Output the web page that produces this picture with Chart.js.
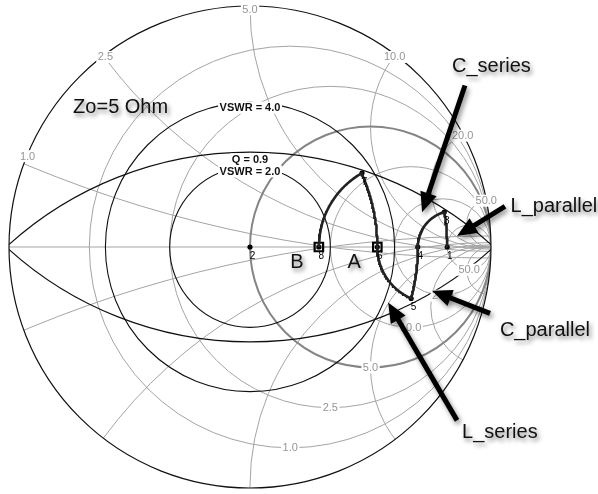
<!DOCTYPE html>
<html>
<head>
<meta charset="utf-8">
<script src="https://cdn.jsdelivr.net/npm/chart.js@4/dist/chart.umd.min.js"></script>
<style>
  html, body { margin: 0; padding: 0; background: #fff; }
  #wrap { width: 598px; height: 494px; }
</style>
</head>
<body>
<div id="wrap"><canvas id="smith" width="598" height="494"></canvas></div>
<script>
// Reference impedance (ohms)
const Z0 = 5;

// Grid values in ohms
const resistanceValues = [1.0, 2.5, 5.0, 10.0, 20.0, 50.0];
const reactanceValues = [1.0, 2.5, 5.0, 10.0, 20.0, 50.0];
const vswrValues = [2.0, 4.0];
const qValues = [0.9];

// Matching-network points, impedance in ohms
const pointIds = ['1', '2', '3', '4', '5', '6', '7', '8'];
const pointR = [50.0, 5.0, 27.9, 27.9, 16.2, 16.2, 9.0, 9.0];
const pointX = [0.0, 0.0, 24.8, 0.0, -13.8, 0.0, 8.1, 0.0];

// Path through the network and the element between each pair of points
const pathOrder = ['1', '3', '4', '5', '6', '7', '8'];
const pathElements = ['parallel', 'series', 'parallel', 'series', 'parallel', 'series'];

// Marked reference planes
const markedPoints = ['6', '8'];

// ---- complex helpers ----
function inv(z) {
  const d = z.re * z.re + z.im * z.im;
  return { re: z.re / d, im: -z.im / d };
}
function toGamma(re, im) {
  const nr = re - 1, ni = im, dr = re + 1, di = im;
  const den = dr * dr + di * di;
  return { x: (nr * dr + ni * di) / den, y: (ni * dr - nr * di) / den };
}
function zOf(id) {
  const i = pointIds.indexOf(id);
  return { re: pointR[i] / Z0, im: pointX[i] / Z0 };
}

// Locus traced while an element's value is swept from one point to the next
function elementSweep(fromId, toId, kind) {
  const za = zOf(fromId), zb = zOf(toId);
  const pts = [];
  const n = 60;
  if (kind === 'series') {
    for (let i = 0; i <= n; i++) {
      const x = za.im + (zb.im - za.im) * i / n;
      pts.push(toGamma(za.re, x));
    }
  } else {
    const ya = inv(za), yb = inv(zb);
    for (let i = 0; i <= n; i++) {
      const b = ya.im + (yb.im - ya.im) * i / n;
      const z = inv({ re: ya.re, im: b });
      pts.push(toGamma(z.re, z.im));
    }
  }
  return pts;
}

const pathData = [];
for (let k = 0; k < pathElements.length; k++) {
  const seg = elementSweep(pathOrder[k], pathOrder[k + 1], pathElements[k]);
  if (k > 0) seg.shift();
  pathData.push(...seg);
}
const pointData = pointIds.map(id => { const z = zOf(id); const g = toGamma(z.re, z.im); return { x: g.x, y: g.y, id }; });
const markData = markedPoints.map(id => { const z = zOf(id); const g = toGamma(z.re, z.im); return { x: g.x, y: g.y }; });

// Callout texts and arrows, placed in reflection-coefficient units
const callouts = [
  { text: 'Zo=5 Ohm', x: -0.734, y: 0.585, align: 'left' },
  { text: 'A', x: 0.432, y: -0.064, align: 'center' },
  { text: 'B', x: 0.195, y: -0.064, align: 'center' },
  { text: 'C_series', x: 0.838, y: 0.755, align: 'left' },
  { text: 'L_parallel', x: 1.081, y: 0.170, align: 'left' },
  { text: 'C_parallel', x: 1.037, y: -0.349, align: 'left' },
  { text: 'L_series', x: 0.880, y: -0.776, align: 'left' }
];
const arrows = [
  { from: [0.892, 0.676], to: [0.714, 0.145] },
  { from: [1.058, 0.170], to: [0.859, 0.046] },
  { from: [0.996, -0.278], to: [0.755, -0.183] },
  { from: [0.859, -0.726], to: [0.573, -0.232] }
];

const GRID = '#a4a4a4';
const FONT = '"Liberation Sans", Arial, sans-serif';

function boxedText(ctx, text, px, py, color, font) {
  ctx.font = font;
  const w = ctx.measureText(text).width;
  ctx.fillStyle = '#fff';
  ctx.fillRect(px - w / 2 - 1.5, py - 6, w + 3, 12);
  ctx.fillStyle = color;
  ctx.textAlign = 'center';
  ctx.textBaseline = 'middle';
  ctx.fillText(text, px, py + 0.5);
}

const smithGrid = {
  id: 'smithGrid',
  beforeDatasetsDraw(chart) {
    const { ctx } = chart;
    const xs = chart.scales.x, ys = chart.scales.y;
    const X = u => xs.getPixelForValue(u);
    const Y = v => ys.getPixelForValue(v);
    const L = r => X(r) - X(0);
    const cx = X(0), cy = Y(0), R = L(1);

    ctx.save();
    ctx.beginPath();
    ctx.arc(cx, cy, R, 0, Math.PI * 2);
    ctx.clip();

    // real axis
    ctx.strokeStyle = GRID;
    ctx.lineWidth = 1;
    ctx.beginPath();
    ctx.moveTo(X(-1), cy);
    ctx.lineTo(X(1), cy);
    ctx.stroke();

    // constant-reactance arcs
    reactanceValues.forEach(v => {
      const x = v / Z0;
      [1, -1].forEach(s => {
        ctx.beginPath();
        ctx.arc(X(1), Y(s / x), L(1 / x), 0, Math.PI * 2);
        ctx.stroke();
      });
    });

    // constant-resistance circles
    resistanceValues.forEach(v => {
      const r = v / Z0;
      ctx.beginPath();
      ctx.lineWidth = (r === 1) ? 2 : 1;
      ctx.strokeStyle = (r === 1) ? '#858585' : GRID;
      ctx.arc(X(r / (1 + r)), cy, L(1 / (1 + r)), 0, Math.PI * 2);
      ctx.stroke();
    });

    // VSWR circles and constant-Q arcs
    ctx.strokeStyle = '#111';
    ctx.lineWidth = 1.1;
    vswrValues.forEach(s => {
      ctx.beginPath();
      ctx.arc(cx, cy, L((s - 1) / (s + 1)), 0, Math.PI * 2);
      ctx.stroke();
    });
    qValues.forEach(q => {
      [1, -1].forEach(s => {
        ctx.beginPath();
        ctx.arc(cx, Y(s / q), L(Math.sqrt(1 + 1 / (q * q))), 0, Math.PI * 2);
        ctx.stroke();
      });
    });
    ctx.restore();

    // outer boundary
    ctx.save();
    ctx.strokeStyle = '#111';
    ctx.lineWidth = 1.2;
    ctx.beginPath();
    ctx.arc(cx, cy, R, 0, Math.PI * 2);
    ctx.stroke();

    // grid labels
    const gf = '11px ' + FONT;
    reactanceValues.forEach(v => {
      const g = toGamma(0, v / Z0);
      boxedText(ctx, v.toFixed(1), X(g.x), Y(g.y) + 1, '#959595', gf);
    });
    resistanceValues.forEach(v => {
      const r = v / Z0;
      boxedText(ctx, v.toFixed(1), X(r / (1 + r)), Y(-1 / (1 + r)) + 1, '#959595', gf);
    });
    const bf = 'bold 11px ' + FONT;
    vswrValues.forEach(s => {
      boxedText(ctx, 'VSWR = ' + s.toFixed(1), cx, Y((s - 1) / (s + 1)) + 4, '#111', bf);
    });
    qValues.forEach(q => {
      boxedText(ctx, 'Q = ' + q.toFixed(1), cx, Y(Math.sqrt(1 + 1 / (q * q)) - 1 / q) + 4, '#111', bf);
    });
    ctx.restore();
  },
  afterDatasetsDraw(chart) {
    const { ctx } = chart;
    const xs = chart.scales.x, ys = chart.scales.y;
    const X = u => xs.getPixelForValue(u);
    const Y = v => ys.getPixelForValue(v);

    // point numbers
    ctx.save();
    ctx.font = '10px ' + FONT;
    ctx.fillStyle = '#000';
    ctx.textAlign = 'center';
    ctx.textBaseline = 'middle';
    const meta = chart.getDatasetMeta(1);
    meta.data.forEach((el, i) => {
      ctx.fillText(pointData[i].id, el.x + 2.5, el.y + 9);
    });
    ctx.restore();

    // arrows
    ctx.save();
    ctx.shadowColor = 'rgba(0,0,0,0.45)';
    ctx.shadowBlur = 5;
    ctx.shadowOffsetX = 2;
    ctx.shadowOffsetY = 3;
    ctx.fillStyle = '#000';
    ctx.strokeStyle = '#000';
    arrows.forEach(a => {
      const x0 = X(a.from[0]), y0 = Y(a.from[1]);
      const x1 = X(a.to[0]), y1 = Y(a.to[1]);
      const ang = Math.atan2(y1 - y0, x1 - x0);
      const hl = 20, hw = 8.5;
      const bx = x1 - hl * Math.cos(ang), by = y1 - hl * Math.sin(ang);
      ctx.beginPath();
      ctx.lineWidth = 5;
      ctx.lineCap = 'butt';
      ctx.moveTo(x0, y0);
      ctx.lineTo(bx + 2 * Math.cos(ang), by + 2 * Math.sin(ang));
      ctx.stroke();
      ctx.beginPath();
      ctx.moveTo(x1, y1);
      ctx.lineTo(bx + hw * Math.sin(ang), by - hw * Math.cos(ang));
      ctx.lineTo(bx - hw * Math.sin(ang), by + hw * Math.cos(ang));
      ctx.closePath();
      ctx.fill();
    });
    ctx.restore();

    // callout texts
    ctx.save();
    ctx.font = '20px ' + FONT;
    ctx.fillStyle = '#111';
    ctx.textBaseline = 'middle';
    ctx.shadowColor = 'rgba(0,0,0,0.5)';
    ctx.shadowBlur = 4;
    ctx.shadowOffsetX = 2;
    ctx.shadowOffsetY = 3;
    callouts.forEach(c => {
      ctx.textAlign = c.align;
      ctx.fillText(c.text, X(c.x), Y(c.y));
    });
    ctx.restore();
  }
};

new Chart(document.getElementById('smith'), {
  type: 'scatter',
  data: {
    datasets: [
      {
        label: 'path',
        data: pathData,
        showLine: true,
        borderColor: '#222',
        borderWidth: 2.6,
        pointRadius: 0,
        tension: 0,
        clip: false
      },
      {
        label: 'points',
        data: pointData,
        showLine: false,
        pointRadius: 2.6,
        pointBackgroundColor: '#000',
        pointBorderWidth: 0,
        clip: false
      },
      {
        label: 'marks',
        data: markData,
        showLine: false,
        pointStyle: 'rect',
        pointRadius: 6,
        pointBorderWidth: 2.2,
        pointBorderColor: '#000',
        pointBackgroundColor: 'rgba(0,0,0,0)',
        clip: false
      }
    ]
  },
  options: {
    responsive: false,
    animation: false,
    devicePixelRatio: 1,
    layout: { padding: { left: 9, right: 107, top: 7, bottom: 5 } },
    plugins: { legend: { display: false }, tooltip: { enabled: false } },
    scales: {
      x: { type: 'linear', min: -1, max: 1, display: false },
      y: { type: 'linear', min: -1, max: 1, display: false }
    }
  },
  plugins: [smithGrid]
});
</script>
</body>
</html>
